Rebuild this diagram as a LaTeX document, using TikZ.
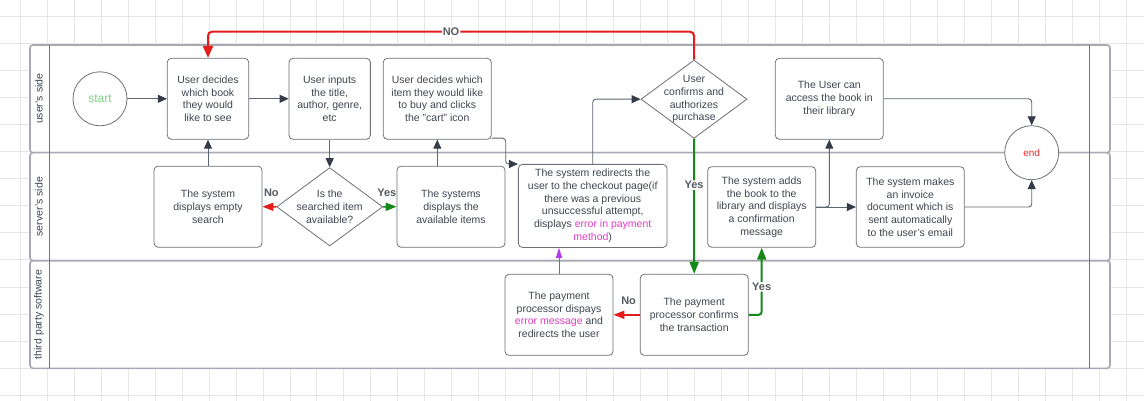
\documentclass[tikz,border=0pt]{standalone}
\usepackage{fontspec}
\setmainfont{Liberation Sans}
\usetikzlibrary{arrows.meta,shapes.geometric}
\definecolor{txt}{HTML}{3F4650}
\definecolor{boxc}{HTML}{6E7079}
\definecolor{lanec}{HTML}{A9A9B1}
\definecolor{hdrc}{HTML}{6F6F75}
\definecolor{gridc}{HTML}{E6E6E6}
\definecolor{linec}{HTML}{5F6570}
\definecolor{headc}{HTML}{363C47}
\definecolor{redc}{HTML}{E41C1C}
\definecolor{grnc}{HTML}{14891A}
\definecolor{startg}{HTML}{7ED27E}
\definecolor{endr}{HTML}{EE2A2A}
\definecolor{mag}{HTML}{E23DC5}
\definecolor{purp}{HTML}{B43AF0}
\definecolor{lblc}{HTML}{555A60}
\begin{document}
\begin{tikzpicture}[x=1pt,y=-1pt,
  lane/.style={draw=lanec,line width=1.6pt,fill=white,rounded corners=3pt},
  hdr/.style={draw=hdrc,line width=0.9pt},
  lanelbl/.style={rotate=90,font=\fontsize{10.5}{12}\selectfont,text=txt,inner sep=0},
  box/.style={rectangle,draw=boxc,rounded corners=4pt,fill=white,align=center,inner sep=0,
    minimum width=108,minimum height=81,font=\fontsize{10.5}{12.7}\selectfont,text=txt,line width=0.8pt},
  dia/.style={diamond,draw=boxc,fill=white,minimum width=106,minimum height=78.3,inner sep=0,line width=0.8pt},
  dtxt/.style={align=center,inner sep=0,font=\fontsize{10.5}{12.7}\selectfont,text=txt},
  term/.style={circle,draw=boxc,fill=white,minimum size=54,inner sep=0,line width=0.8pt},
  conn/.style={draw=linec,line width=0.9pt,rounded corners=3pt,-{Triangle[length=9pt,width=8pt,color=headc]}},
  redthin/.style={draw=redc,line width=1.5pt,-{Triangle[length=11pt,width=8pt]}},
  grnthin/.style={draw=grnc,line width=1.5pt,-{Triangle[length=11pt,width=8pt]}},
  redthick/.style={draw=redc,line width=2pt,rounded corners=4pt,-{Triangle[length=12pt,width=10pt]}},
  grnthick/.style={draw=grnc,line width=2pt,rounded corners=3pt,-{Triangle[length=12pt,width=9pt,color=grnc]}},
  purpc/.style={draw=purp,line width=0.9pt,-{Triangle[length=10pt,width=6pt]}},
  lbl/.style={font=\bfseries\fontsize{11}{13}\selectfont,text=lblc,inner sep=1pt}
]
\useasboundingbox (0,0) rectangle (1144,401);
\fill[white] (0,0) rectangle (1144,401);
\foreach \i in {0,...,41} \draw[gridc,line width=0.8pt] ({20+26.99*\i},0) -- ({20+26.99*\i},401);
\foreach \j in {0,...,14} \draw[gridc,line width=0.8pt] (0,{16.7+27.02*\j}) -- (1144,{16.7+27.02*\j});

% lanes
\draw[lane] (30,45) rectangle (1110,152.7);
\draw[lane] (30,152.7) rectangle (1110,260.7);
\draw[lane] (30,260.7) rectangle (1110,368.3);
\draw[hdr] (49.5,45) -- (49.5,368.3);
\draw[hdr] (1089.5,45) -- (1089.5,368.3);
\node[lanelbl] (l1) at (38.8,98.8) {user's side};
\node[lanelbl] (l2) at (38.8,206.7) {server's side};
\node[lanelbl] (l3) at (38.8,314.5) {third party software};

% user's side
\node[term,font=\fontsize{12}{14}\selectfont,text=startg] (start) at (100,98.8) {start};
\node[box,minimum width=81.4] (b1) at (208,98.8) {User decides\\which book\\they would\\like to see};
\node[box,minimum width=81.3] (b2) at (329.7,98.8) {User inputs\\the title,\\author, genre,\\etc};
\node[box] (b3) at (437.3,98.8) {User decides which\\item they would like\\to buy and clicks\\the "cart" icon};
\node[dia] (d2) at (694,99.2) {};
\node[dtxt] (d2t) at (d2) {User\\confirms and\\authorizes\\purchase};
\node[box] (access) at (829.3,98.8) {The User can\\access the book in\\their library};

% server's side
\node[box] (empty) at (208,206.7) {The system\\displays empty\\search};
\node[dia] (d1) at (329.7,206.8) {};
\node[dtxt] (d1t) at (d1) {Is the\\searched item\\available?};
\node[box] (avail) at (451,206.7) {The systems\\displays the\\available items};
\node[box,minimum width=148.7,minimum height=83] (checkout) at (592.7,205.9) {The system redirects the\\user to the checkout page(if\\there was a previous\\unsuccessful attempt,\\displays \textcolor{mag}{error in payment}\\\textcolor{mag}{method})};
\node[box,minimum height=80.6] (adds) at (761.7,207) {The system adds\\the book to the\\library and displays\\a confirmation\\message};
\node[box,minimum height=80.6] (invoice) at (910.3,207) {The system makes\\an invoice\\document which is\\sent automatically\\to the user's email};
\node[term,font=\fontsize{10}{12}\selectfont,text=endr] (end) at (1031.7,152.7) {end};

% third party
\node[box] (perr) at (559,314.8) {The payment\\processor dispays\\\textcolor{mag}{error message} and\\redirects the user};
\node[box] (pconf) at (694.2,314.8) {The payment\\processor confirms\\the transaction};

% connectors
\draw[conn] (start) -- (b1);
\draw[conn] (b1) -- (b2);
\draw[conn] (b2) -- (d1);
\draw[redthin] (d1.west) -- node[lbl,yshift=14pt,xshift=2pt] {No} (empty.east);
\draw[grnthin] (d1.east) -- node[lbl,yshift=14pt,xshift=-3pt] {Yes} (avail.west);
\draw[conn] (empty) -- (b1);
\draw[conn] (avail.north -| b3.south) -- (b3.south);
\draw[conn] ([yshift=1.5pt]b3.south east) -- ++(14,0) |- (checkout.north west);
\draw[conn] (checkout.north) |- (d2.west);
\coordinate (topy) at (0,31.7);
\draw[redthick] (d2.north) -- (d2.north |- topy) -- node[lbl,fill=white] {NO} (b1.north |- topy) -- (b1.north);
\draw[grnthick] (d2.south) -- node[lbl,fill=white,pos=0.343] {Yes} (pconf.north);
\draw[redthin] (pconf.west) -- node[lbl,yshift=14pt,xshift=2pt] {No} (perr.east);
\draw[grnthick] (pconf.east) -| node[lbl,fill=white,pos=0.708] {Yes} (adds.south);
\draw[purpc] (perr.north) -- (perr.north |- checkout.south);
\draw[conn] (adds.east) -| (access.south);
\draw[conn] (adds.east) -- (invoice.west);
\draw[conn] (invoice.east) -| (end.south);
\draw[conn] (access.east) -| (end.north);
\end{tikzpicture}
\end{document}
